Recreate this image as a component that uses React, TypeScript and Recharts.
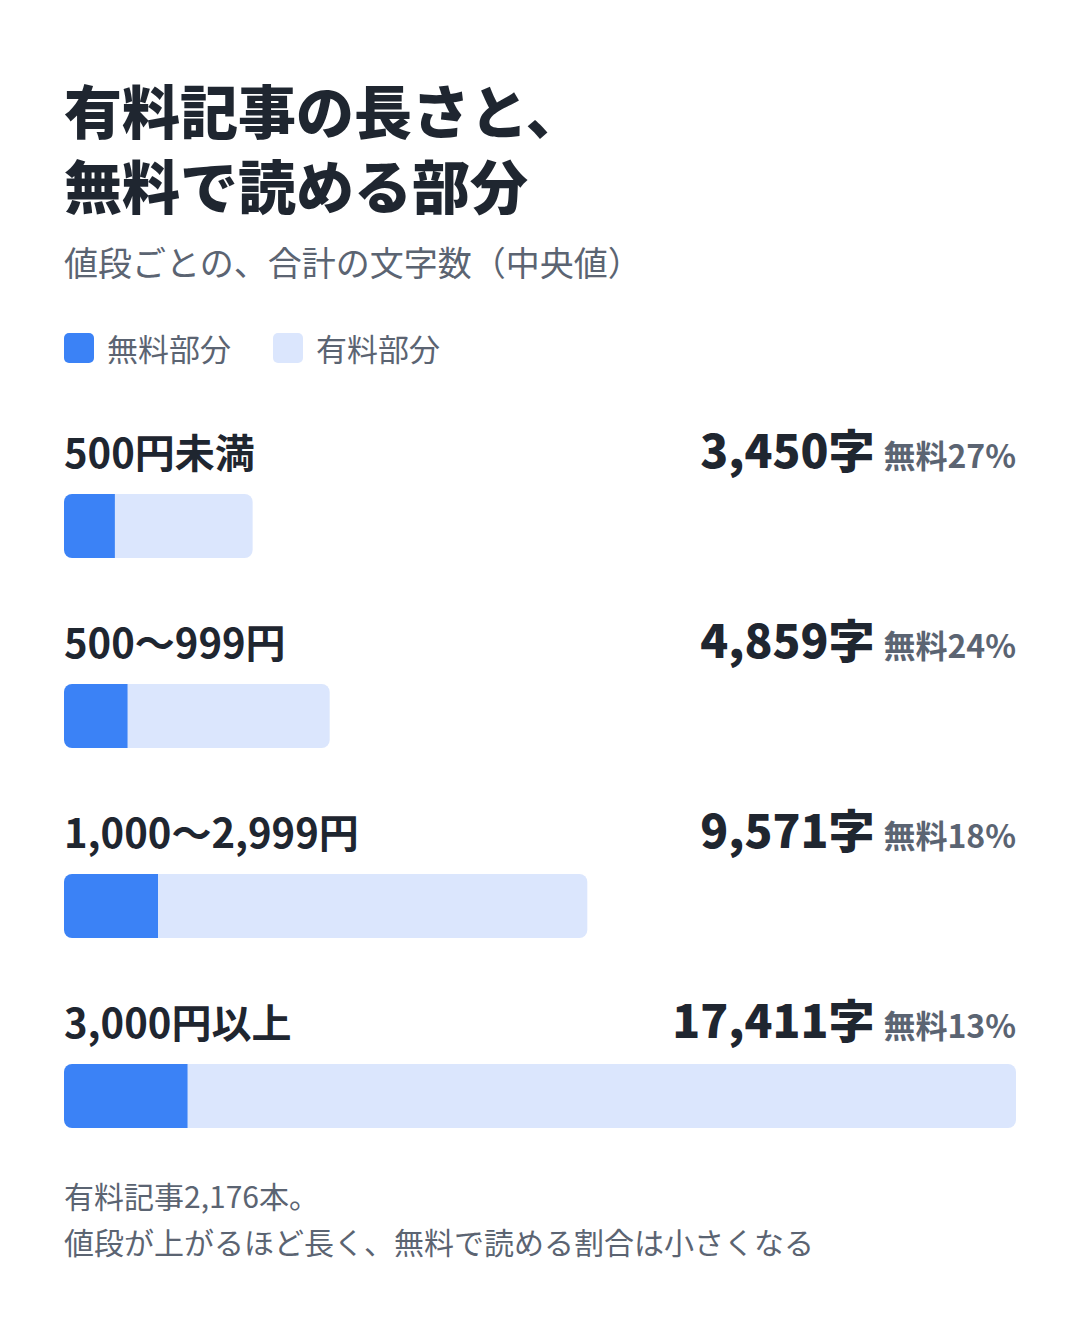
import React from 'react';
import { BarChart, Bar, XAxis, YAxis, LabelList } from 'recharts';

const categories = ['500円未満', '500〜999円', '1,000〜2,999円', '3,000円以上'];
const totalChars = [3450, 4859, 9571, 17411];
const freeSharePct = [27, 24, 18, 13];
const seriesNames = ['無料部分', '有料部分'];

const titleLines = ['有料記事の長さと、', '無料で読める部分'];
const subtitle = '値段ごとの、合計の文字数（中央値）';
const footnotes = ['有料記事2,176本。', '値段が上がるほど長く、無料で読める割合は小さくなる'];

const BLUE = '#3b82f6';
const LIGHT = '#dbe6fd';
const DARK = '#1f2630';
const GRAY = '#5b6472';
const FONT = '"Noto Sans CJK JP", "Noto Sans", sans-serif';

const data = categories.map((name, i) => {
  const free = (totalChars[i] * freeSharePct[i]) / 100;
  return { name, free, paid: totalChars[i] - free, total: totalChars[i], pct: freeSharePct[i] };
});
const maxTotal = Math.max(...totalChars);

const CHART_W = 1064;
const TOP_PAD = 60;
const CHART_H = 760 + TOP_PAD;
const MARGIN = { top: TOP_PAD, right: 56, bottom: 0, left: 56 };

const renderName = (props: any) => {
  const { x, y, value } = props;
  return (
    <text x={x} y={y - 26} fontSize={40} fontWeight={700} fill={DARK} fontFamily={FONT}>
      {value}
    </text>
  );
};

const renderValue = (props: any) => {
  const { y, index } = props;
  const d = data[index];
  if (!d) return null;
  return (
    <text x={CHART_W - MARGIN.right} y={y - 26} textAnchor="end" fontFamily={FONT}>
      <tspan fontSize={46} fontWeight={900} fill={DARK}>
        {d.total.toLocaleString('en-US')}字
      </tspan>
      <tspan dx={9} fontSize={32} fontWeight={700} fill={GRAY}>
        {`無料${d.pct}%`}
      </tspan>
    </text>
  );
};

export default function App() {
  return (
    <div
      style={{
        position: 'relative',
        width: 1064,
        height: 1312,
        fontFamily: FONT,
        background: '#fff',
      }}
    >
      <div
        style={{
          position: 'absolute',
          left: 56,
          top: 64,
          fontSize: 58,
          lineHeight: '75px',
          fontWeight: 900,
          color: DARK,
          whiteSpace: 'nowrap',
        }}
      >
        {titleLines.map((t) => (
          <div key={t}>{t}</div>
        ))}
      </div>
      <div
        style={{
          position: 'absolute',
          left: 56,
          top: 234,
          fontSize: 34,
          lineHeight: '40px',
          color: GRAY,
          whiteSpace: 'nowrap',
        }}
      >
        {subtitle}
      </div>
      <div
        style={{
          position: 'absolute',
          left: 56,
          top: 320,
          height: 40,
          display: 'flex',
          alignItems: 'center',
          fontSize: 31,
          color: GRAY,
        }}
      >
        {seriesNames.map((n, i) => (
          <div key={n} style={{ display: 'flex', alignItems: 'center', marginRight: 42 }}>
            <div
              style={{
                width: 30,
                height: 30,
                borderRadius: 5,
                background: i === 0 ? BLUE : LIGHT,
                marginRight: 13,
              }}
            />
            <span style={{ lineHeight: '40px' }}>{n}</span>
          </div>
        ))}
      </div>
      <div style={{ position: 'absolute', left: 0, top: 423 - TOP_PAD }}>
        <BarChart
          width={CHART_W}
          height={CHART_H}
          data={data}
          layout="vertical"
          margin={MARGIN}
          barSize={64}
        >
          <XAxis type="number" hide domain={[0, maxTotal]} />
          <YAxis type="category" dataKey="name" hide />
          <Bar dataKey="free" name={seriesNames[0]} stackId="a" fill={BLUE} radius={[8, 0, 0, 8]} isAnimationActive={false}>
            <LabelList dataKey="name" content={renderName} />
          </Bar>
          <Bar dataKey="paid" name={seriesNames[1]} stackId="a" fill={LIGHT} radius={[0, 8, 8, 0]} isAnimationActive={false}>
            <LabelList dataKey="total" content={renderValue} />
          </Bar>
        </BarChart>
      </div>
      <div
        style={{
          position: 'absolute',
          left: 56,
          top: 1164,
          fontSize: 30,
          lineHeight: '46px',
          color: GRAY,
          whiteSpace: 'nowrap',
        }}
      >
        {footnotes.map((t) => (
          <div key={t}>{t}</div>
        ))}
      </div>
    </div>
  );
}
